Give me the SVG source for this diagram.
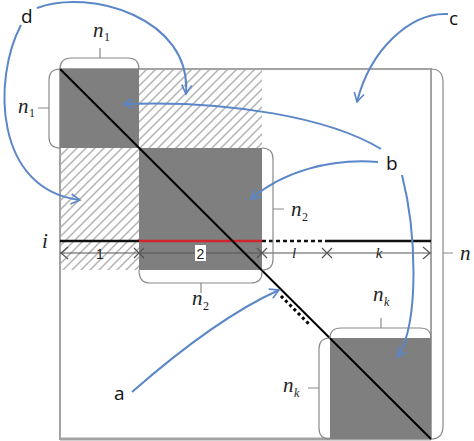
<svg xmlns="http://www.w3.org/2000/svg" width="474" height="441" viewBox="0 0 474 441">
<style>
.lbl{font-family:"Open Sans","Liberation Sans",sans-serif;font-size:19px;fill:#111}
.mi{font-family:"Liberation Serif","DejaVu Serif",serif;font-style:italic;font-size:21px;fill:#222}
.sub{font-family:"Liberation Serif","DejaVu Serif",serif;font-size:12px;fill:#222}
.subi{font-family:"Liberation Serif","DejaVu Serif",serif;font-style:italic;font-size:12px;fill:#222}
.br{fill:none;stroke:#8a8a8a;stroke-width:1.2}
.dark{fill:#7f7f80}
.hatch{fill:url(#h)}
.blue{fill:none;stroke:#5b87c9;stroke-width:2;marker-end:url(#ah)}
.dim{stroke:#555;stroke-width:1.2;fill:none}
.small{font-family:"Liberation Sans",sans-serif;font-size:14px;fill:#222}
.smalli{font-family:"Liberation Serif",serif;font-style:italic;font-size:15px;fill:#222}
</style>
<defs>
<pattern id="h" patternUnits="userSpaceOnUse" width="9" height="9">
<rect width="9" height="9" fill="#fff"/>
<path d="M0,9 L9,0 M-2,2 L2,-2 M7,11 L11,7" stroke="#b3b3b3" stroke-width="1.5"/>
</pattern>
<marker id="ah" viewBox="0 0 12 12" refX="10" refY="6" markerWidth="6" markerHeight="6" orient="auto" markerUnits="strokeWidth">
<polyline points="1,1 10,6 1,11" fill="none" stroke="#5b87c9" stroke-width="1.6"/>
</marker>
</defs>
<rect width="474" height="441" fill="#fff"/>
<g id="matrix">
<rect x="139" y="69" width="123" height="79" class="hatch"/>
<rect x="60" y="148" width="79" height="122" class="hatch"/>
<rect x="60" y="69" width="371" height="370" fill="none" stroke="#a3a3a3" stroke-width="2"/>
<line x1="60" y1="439" x2="431" y2="439" stroke="#a3a3a3" stroke-width="3"/>
</g>
<g id="block1"><rect x="60" y="69" width="79" height="79" class="dark"/></g>
<g id="block2"><rect x="139" y="148" width="123" height="122" class="dark"/></g>
<g id="blockk"><rect x="330" y="338" width="101" height="101" class="dark"/></g>
<g id="row-i">
<line x1="60" y1="241" x2="139" y2="241" stroke="#111" stroke-width="2.5"/>
<line x1="139" y1="241" x2="262" y2="241" stroke="#d0262b" stroke-width="2.5"/>
<line x1="262" y1="241" x2="328" y2="241" stroke="#111" stroke-width="2.5" stroke-dasharray="4,3"/>
<line x1="328" y1="241" x2="431" y2="241" stroke="#111" stroke-width="2.5"/>
<text x="42" y="248" class="mi" font-size="23">i</text>
</g>
<g id="dims">
<line x1="60" y1="253" x2="431" y2="253" class="dim"/>
<polyline points="68,247 61,253 68,259" class="dim"/>
<polyline points="423,247 430,253 423,259" class="dim"/>
<path d="M134,248 L144,258 M144,248 L134,258" class="dim"/>
<path d="M257,248 L267,258 M267,248 L257,258" class="dim"/>
<path d="M322,248 L332,258 M332,248 L322,258" class="dim"/>
<text x="100" y="259" class="small" text-anchor="middle">1</text>
<rect x="195" y="245" width="11" height="16" fill="#fff"/>
<text x="200.5" y="259" class="small" text-anchor="middle">2</text>
<text x="294" y="258" class="smalli" text-anchor="middle">l</text>
<text x="379" y="258" class="smalli" text-anchor="middle">k</text>
</g>
<g id="diagonal">
<line x1="60" y1="69" x2="431" y2="439" stroke="#000" stroke-width="2"/>
<line x1="281" y1="296" x2="309" y2="324" stroke="#000" stroke-width="3" stroke-dasharray="3,3"/>
</g>
<g id="brackets">
<path class="br" d="M60,69 Q60,58 71,58 L128,58 Q139,58 139,69 M100,58 V48"/>
<path class="br" d="M60,69 Q49,69 49,80 V137 Q49,148 60,148 M49,108 H38"/>
<path class="br" d="M262,148 Q273,148 273,159 V259 Q273,270 262,270 M273,209 H284"/>
<path class="br" d="M139,270 Q139,283 150,283 L251,283 Q262,283 262,272 M201,283 V293"/>
<path class="br" d="M330,338 Q330,328 341,328 L420,328 Q431,328 431,338 M381,328 V318"/>
<path class="br" d="M330,338 Q319,338 319,349 V428 Q319,439 330,439 M319,388 H308"/>
<path class="br" d="M431,69 Q443,69 443,82 V426 Q443,439 431,439 M443,253 H453"/>
</g>
<g id="labels">
<text x="93" y="37" class="mi">n</text><text x="104" y="41" class="sub">1</text>
<text x="18" y="113" class="mi">n</text><text x="29" y="117" class="sub">1</text>
<text x="291" y="216" class="mi">n</text><text x="302" y="221" class="sub">2</text>
<text x="192" y="305" class="mi">n</text><text x="203" y="310" class="sub">2</text>
<text x="373" y="301" class="mi">n</text><text x="384" y="306" class="subi">k</text>
<text x="283" y="392" class="mi">n</text><text x="294" y="397" class="subi">k</text>
<text x="460" y="260" class="mi" font-size="23">n</text>
</g>
<g id="letters">
<text x="21" y="23" class="lbl">d</text>
<text x="449" y="25" class="lbl">c</text>
<text x="386" y="170" class="lbl">b</text>
<text x="114" y="400" class="lbl">a</text>
</g>
<g id="connectors">
<path class="blue" d="M37,8 C90,-12 192,18 186,94"/>
<path class="blue" d="M21,25 C-8,80 -5,190 80,200"/>
<path class="blue" d="M448,14 C410,12 370,50 357,102"/>
<path class="blue" d="M381,149 C330,118 230,100 124,104"/>
<path class="blue" d="M378,162 C330,158 282,172 251,199"/>
<path class="blue" d="M402,175 C416,230 420,320 398,357"/>
<path class="blue" d="M132,392 C180,350 230,312 279,290"/>
</g>
</svg>
